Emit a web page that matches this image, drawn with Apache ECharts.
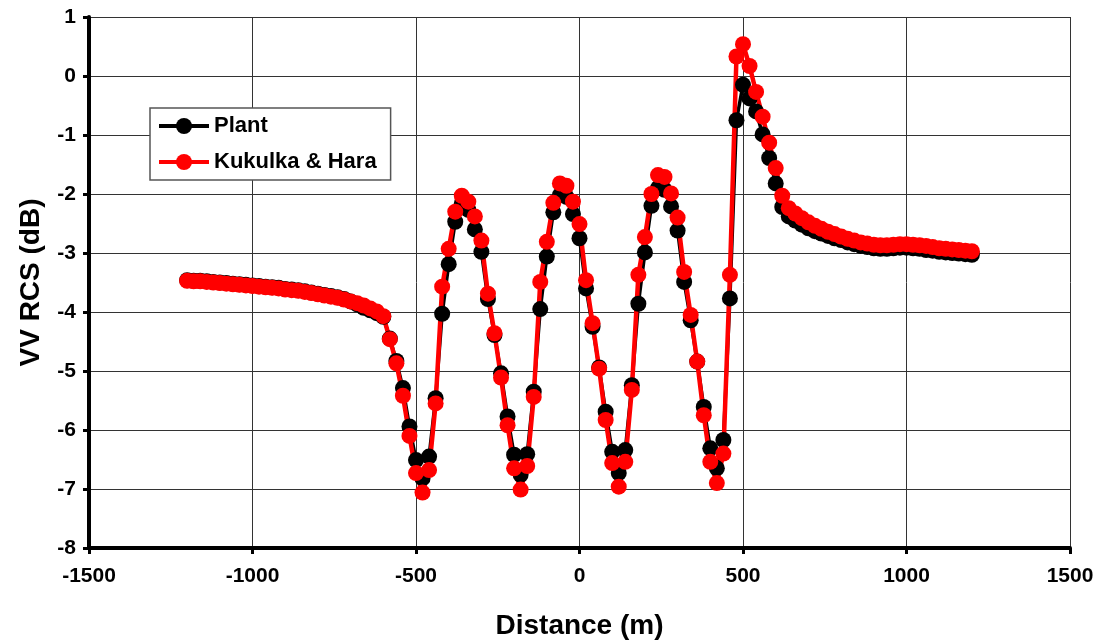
<!DOCTYPE html>
<html>
<head>
<meta charset="utf-8">
<title>VV RCS</title>
<script src="https://cdn.jsdelivr.net/npm/echarts@6/dist/echarts.min.js"></script>
<style>
  html, body { margin: 0; padding: 0; background: #fff; }
  #chart { width: 1099px; height: 643px; }
</style>
</head>
<body>
<div id="chart"></div>
<script>
// distance along track (m)
const distance = [
  -1200, -1180, -1160, -1140, -1120, -1100, -1080, -1060, -1040, -1020,
  -1000, -980, -960, -940, -920, -900, -880, -860, -840, -820,
  -800, -780, -760, -740, -720, -700, -680, -660, -640, -620,
  -600, -580, -560, -540, -520, -500, -480, -460, -440, -420,
  -400, -380, -360, -340, -320, -300, -280, -260, -240, -220,
  -200, -180, -160, -140, -120, -100, -80, -60, -40, -20,
  0, 20, 40, 60, 80, 100, 120, 140, 160, 180,
  200, 220, 240, 260, 280, 300, 320, 340, 360, 380,
  400, 420, 440, 460, 480, 500, 520, 540, 560, 580,
  600, 620, 640, 660, 680, 700, 720, 740, 760, 780,
  800, 820, 840, 860, 880, 900, 920, 940, 960, 980,
  1000, 1020, 1040, 1060, 1080, 1100, 1120, 1140, 1160, 1180,
  1200
];

// Plant model (dB)
const plant = [
  -3.46, -3.47, -3.47, -3.48, -3.49, -3.50, -3.51, -3.52, -3.53, -3.54,
  -3.55, -3.56, -3.57, -3.58, -3.59, -3.61, -3.62, -3.63, -3.65, -3.67,
  -3.69, -3.71, -3.73, -3.75, -3.78, -3.82, -3.87, -3.93, -3.97, -4.02,
  -4.08, -4.45, -4.83, -5.29, -5.94, -6.51, -6.82, -6.45, -5.46, -4.03,
  -3.19, -2.47, -2.16, -2.27, -2.60, -2.98, -3.78, -4.39, -5.04, -5.77,
  -6.42, -6.76, -6.41, -5.35, -3.95, -3.06, -2.31, -2.02, -2.05, -2.34,
  -2.75, -3.60, -4.25, -4.94, -5.69, -6.37, -6.73, -6.34, -5.24, -3.86,
  -2.99, -2.20, -1.90, -1.93, -2.21, -2.62, -3.49, -4.14, -4.84, -5.61,
  -6.31, -6.65, -6.17, -3.77, -0.75, -0.15, -0.38, -0.60, -0.99, -1.39,
  -1.82, -2.22, -2.38, -2.45, -2.52, -2.58, -2.63, -2.67, -2.71, -2.75,
  -2.78, -2.82, -2.85, -2.88, -2.90, -2.92, -2.93, -2.93, -2.92, -2.91,
  -2.91, -2.92, -2.93, -2.95, -2.96, -2.98, -2.99, -3.00, -3.01, -3.02,
  -3.03
];

// Kukulka & Hara model (dB)
const kukulka = [
  -3.47, -3.48, -3.48, -3.49, -3.50, -3.51, -3.52, -3.53, -3.54, -3.55,
  -3.56, -3.57, -3.58, -3.59, -3.60, -3.62, -3.63, -3.64, -3.66, -3.68,
  -3.70, -3.72, -3.74, -3.76, -3.79, -3.82, -3.85, -3.89, -3.94, -3.99,
  -4.07, -4.46, -4.87, -5.42, -6.10, -6.73, -7.06, -6.68, -5.55, -3.57,
  -2.93, -2.30, -2.03, -2.13, -2.38, -2.79, -3.69, -4.36, -5.11, -5.92,
  -6.65, -7.01, -6.61, -5.44, -3.49, -2.81, -2.15, -1.82, -1.86, -2.13,
  -2.51, -3.46, -4.19, -4.96, -5.83, -6.56, -6.96, -6.54, -5.32, -3.37,
  -2.73, -2.00, -1.68, -1.71, -1.99, -2.40, -3.32, -4.05, -4.84, -5.75,
  -6.54, -6.90, -6.40, -3.37, 0.33, 0.54, 0.17, -0.27, -0.69, -1.13,
  -1.56, -2.03, -2.24, -2.33, -2.41, -2.48, -2.54, -2.59, -2.64, -2.68,
  -2.72, -2.76, -2.79, -2.82, -2.84, -2.86, -2.87, -2.87, -2.86, -2.85,
  -2.85, -2.86, -2.87, -2.88, -2.90, -2.92, -2.93, -2.94, -2.95, -2.96,
  -2.97
];

const font = "'Liberation Sans', Arial, sans-serif";

const chart = echarts.init(document.getElementById('chart'));

function pairs(ys) {
  return distance.map((x, i) => [x, ys[i]]);
}

const option = {
  animation: false,
  backgroundColor: '#fff',
  // keep the plot box fixed, don't let v6 shrink it for the axis names
  grid: { left: 89, right: 29, top: 17, bottom: 95, outerBoundsMode: 'none' },
  legend: {
    orient: 'vertical',
    left: 150,
    top: 108,
    padding: [7, 14, 7, 7],
    itemWidth: 50,
    itemHeight: 20,
    itemGap: 14,
    borderColor: '#555',
    borderWidth: 1.5,
    backgroundColor: '#fff',
    textStyle: { fontFamily: font, fontWeight: 'bold', fontSize: 22, color: '#000' },
    data: [
      { name: 'Plant', lineStyle: { width: 4 } },
      { name: 'Kukulka & Hara', lineStyle: { width: 4 } }
    ]
  },
  xAxis: {
    type: 'value',
    min: -1500,
    max: 1500,
    interval: 500,
    name: 'Distance (m)',
    nameLocation: 'middle',
    nameGap: 64,
    nameTextStyle: { fontFamily: font, fontWeight: 'bold', fontSize: 28, color: '#000' },
    axisLine: { onZero: false, lineStyle: { color: '#000', width: 4 } },
    axisTick: { show: true, length: 6, lineStyle: { color: '#000', width: 3 } },
    axisLabel: {
      margin: 18, fontFamily: font, fontWeight: 'bold', fontSize: 21, color: '#000',
      formatter: v => String(v)
    },
    splitLine: { show: true, lineStyle: { color: '#333', width: 1 } }
  },
  yAxis: {
    type: 'value',
    min: -8,
    max: 1,
    interval: 1,
    name: 'VV RCS (dB)',
    nameLocation: 'middle',
    nameGap: 44,
    nameTextStyle: { fontFamily: font, fontWeight: 'bold', fontSize: 28, color: '#000' },
    axisLine: { show: true, onZero: false, lineStyle: { color: '#000', width: 4 } },
    axisTick: { show: true, length: 6, lineStyle: { color: '#000', width: 3 } },
    axisLabel: { margin: 13, fontFamily: font, fontWeight: 'bold', fontSize: 21, color: '#000' },
    splitLine: { show: true, lineStyle: { color: '#333', width: 1 } }
  },
  series: [
    {
      name: 'Plant',
      type: 'line',
      data: pairs(plant),
      symbol: 'circle',
      symbolSize: 16,
      showAllSymbol: true,
      lineStyle: { color: '#000', width: 3.5 },
      itemStyle: { color: '#000' }
    },
    {
      name: 'Kukulka & Hara',
      type: 'line',
      data: pairs(kukulka),
      symbol: 'circle',
      symbolSize: 16,
      showAllSymbol: true,
      lineStyle: { color: '#f00', width: 4.5 },
      itemStyle: { color: '#f00' }
    }
  ]
};

chart.setOption(option);
</script>
</body>
</html>
